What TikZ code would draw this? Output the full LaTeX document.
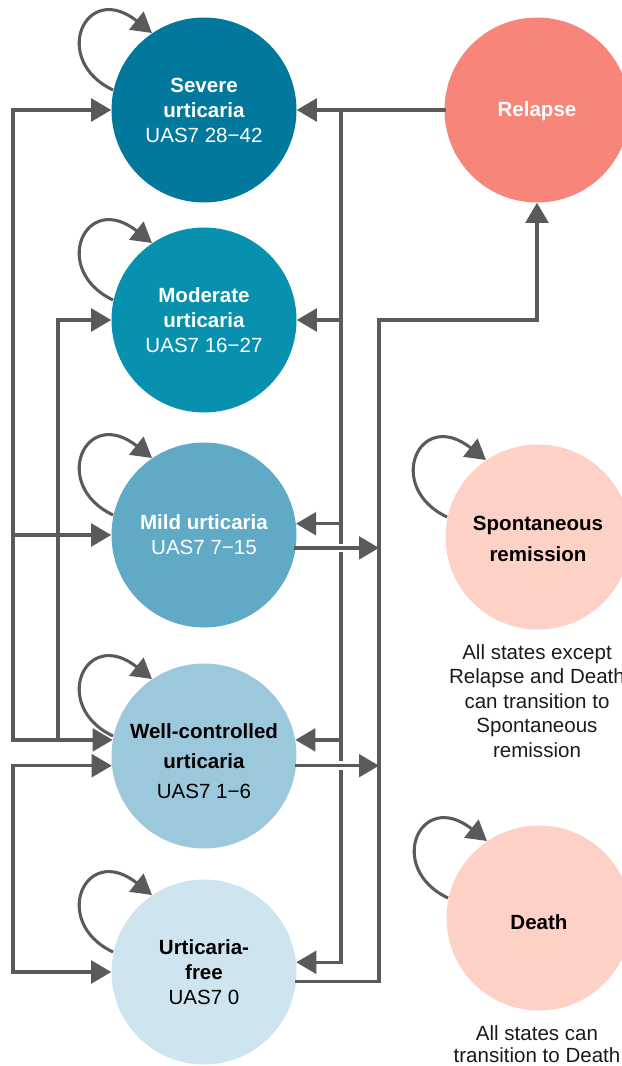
\documentclass[tikz,border=0pt]{standalone}
\usepackage{fontspec}
\setmainfont{Liberation Sans}
\usetikzlibrary{arrows.meta}
\definecolor{cSev}{HTML}{02799C}
\definecolor{cMod}{HTML}{0791AE}
\definecolor{cMil}{HTML}{61AAC6}
\definecolor{cWC}{HTML}{9CC8DB}
\definecolor{cUF}{HTML}{CEE4EF}
\definecolor{cRel}{HTML}{F7857A}
\definecolor{cPale}{HTML}{FDD1C6}
\definecolor{cLine}{HTML}{5A5A5A}
\definecolor{cTxt}{HTML}{1A1A1A}
\begin{document}
\begin{tikzpicture}[x=0.75pt,y=-0.75pt,
  state/.style={circle,minimum size=138.75pt,inner sep=0pt,align=center,
    font=\fontsize{15.4}{18.75}\selectfont},
  caption/.style={inner sep=0pt,align=center,text=cTxt},
  ln/.style={draw=cLine,line width=2.4pt,line cap=rect},
  arr/.style={ln,-{Triangle[length=15pt,width=17pt]}},
  loop/.style={draw=cLine,line width=2.3pt,-{Triangle[length=15pt,width=17pt]}},
  bridge/.style={preaction={draw=white,line width=6.6pt,-}}
  ]
\useasboundingbox (0,0) rectangle (621,1066);

% states
\node[state,fill=cSev,text=white] (sev) at (204,110) {\textbf{Severe}\\\textbf{urticaria}\\UAS7 28−42};
\node[state,fill=cMod,text=white] (mod) at (204,320) {\textbf{Moderate}\\\textbf{urticaria}\\UAS7 16−27};
\node[state,fill=cMil,text=white] (mil) at (204,535) {\textbf{Mild urticaria}\\UAS7 7−15};
\node[state,fill=cWC,text=black] (wc) at (204,756) {\rule{0pt}{18.7pt}\textbf{Well-controlled}\\[3.5pt]\textbf{urticaria}\\[3.5pt]UAS7 1−6};
\node[state,fill=cUF,text=black] (uf) at (204,972) {\textbf{Urticaria-}\\\textbf{free}\\UAS7 0};
\node[state,fill=cRel,text=white] (rel) at (537,110) {\rule{0pt}{13.5pt}\textbf{Relapse}};
\node[state,fill=cPale,text=black] (spo) at (538,537) {\rule{0pt}{13.5pt}\textbf{Spontaneous}\\[4pt]\textbf{remission}};
\node[state,fill=cPale,text=black] (dea) at (539,918) {\rule{0pt}{17pt}\textbf{Death}};

% captions
\node[caption,anchor=north,font=\fontsize{15.4}{18.4}\selectfont] (capS) at (537,644)
  {All states except\\Relapse and Death\\can transition to\\Spontaneous\\remission};
\node[caption,anchor=north,font=\fontsize{15.4}{16.5}\selectfont] (capD) at (537,1025)
  {All states can\\transition to Death};

% self loops
\foreach \n in {sev,mod,mil,wc,uf,spo,dea}{
  \draw[loop] ([shift={(-91,-20)}]\n.center)
    .. controls ([shift={(-154,-50)}]\n.center) and ([shift={(-119,-130)}]\n.center)
    .. ([shift={(-52,-77)}]\n.center);
}

% bus coordinates
\coordinate (bA) at (341,110);
\coordinate (bB) at (379,320);
\coordinate (bL1) at (13,0);
\coordinate (bL2) at (58,0);

% right side: towards more severe states
\draw[arr] (rel.west) -- (sev.east);
\draw[arr] (bA) |- (uf.6.2);
\draw[arr] (bA |- mod.east) -- (mod.east);
\draw[arr] (bA |- mil.7.45) -- (mil.7.45);
\draw[arr] (bA |- wc.10) -- (wc.10);

% right side: towards relapse
\draw[arr,bridge] (mil.-8.7) -- (bB |- mil.-8.7);
\draw[arr,bridge] (wc.-6.8) -- (bB |- wc.-6.8);
\draw[arr] (uf.-6.2) -| (bB) -| (rel.south);

% left side
\draw[arr] (bL1 |- wc.170) |- (sev.west);
\draw[arr] (bL1 |- wc.170) -- (wc.170);
\draw[arr] (bL1 |- mil.west) -- (mil.west);
\draw[arr] (bL2 |- wc.170) |- (mod.west);
\draw[arr] (bL1 |- uf.west) |- (wc.186.8);
\draw[arr] (bL1 |- wc.186.8) |- (uf.west);
\end{tikzpicture}
\end{document}
